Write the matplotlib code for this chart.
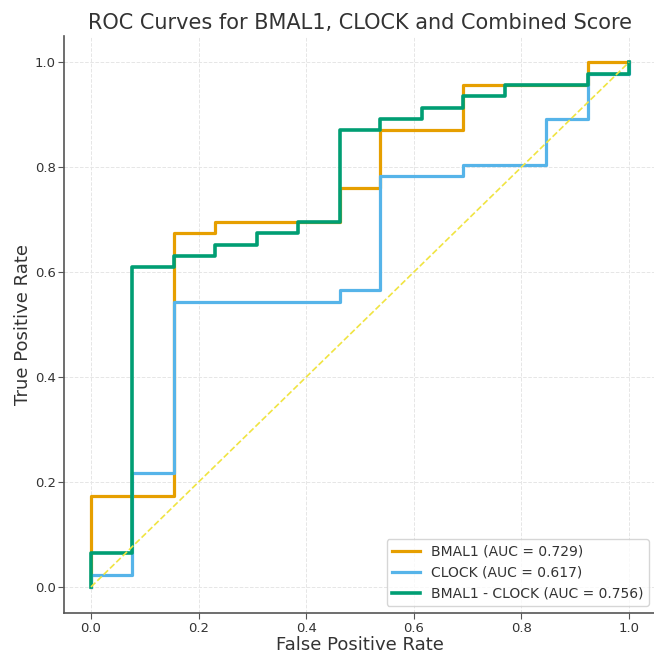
import matplotlib
matplotlib.use("Agg")
import matplotlib.pyplot as plt

# Puntos de las curvas ROC (esquinas de los escalones)
fpr_bmal1 = [0.0, 0.0, 0.154, 0.154, 0.231, 0.231, 0.462, 0.462, 0.538, 0.538,
             0.692, 0.692, 0.923, 0.923, 1.0]
tpr_bmal1 = [0.0, 0.174, 0.174, 0.674, 0.674, 0.696, 0.696, 0.761, 0.761, 0.870,
             0.870, 0.957, 0.957, 1.0, 1.0]

fpr_clock = [0.0, 0.0, 0.077, 0.077, 0.154, 0.154, 0.462, 0.462, 0.538, 0.538,
             0.692, 0.692, 0.846, 0.846, 0.923, 0.923, 1.0, 1.0]
tpr_clock = [0.0, 0.022, 0.022, 0.217, 0.217, 0.543, 0.543, 0.565, 0.565, 0.783,
             0.783, 0.804, 0.804, 0.891, 0.891, 0.978, 0.978, 1.0]

fpr_comb = [0.0, 0.0, 0.077, 0.077, 0.154, 0.154, 0.231, 0.231, 0.308, 0.308,
            0.385, 0.385, 0.462, 0.462, 0.538, 0.538, 0.615, 0.615, 0.692, 0.692,
            0.769, 0.769, 0.923, 0.923, 1.0, 1.0]
tpr_comb = [0.0, 0.065, 0.065, 0.609, 0.609, 0.630, 0.630, 0.652, 0.652, 0.674,
            0.674, 0.696, 0.696, 0.870, 0.870, 0.891, 0.891, 0.913, 0.913, 0.935,
            0.935, 0.957, 0.957, 0.978, 0.978, 1.0]

auc_bmal1 = 0.729
auc_clock = 0.617
auc_comb = 0.756

TEXTO = "#333333"

fig = plt.figure(figsize=(6.54, 6.53), dpi=100)
ax = fig.add_axes([0.098, 0.061, 0.905, 0.884])

ax.plot(fpr_bmal1, tpr_bmal1, color="#E69F00", lw=2.3, label=f"BMAL1 (AUC = {auc_bmal1:.3f})")
ax.plot(fpr_clock, tpr_clock, color="#56B4E9", lw=2.3, label=f"CLOCK (AUC = {auc_clock:.3f})")
ax.plot(fpr_comb, tpr_comb, color="#009E73", lw=2.6, label=f"BMAL1 - CLOCK (AUC = {auc_comb:.3f})")
ax.plot([0, 1], [0, 1], color="#F0E442", lw=1.2, ls="--")

ax.set_xlabel("False Positive Rate", fontsize=13, color=TEXTO, labelpad=1)
ax.set_ylabel("True Positive Rate", fontsize=13, color=TEXTO, labelpad=2)
ax.set_title("ROC Curves for BMAL1, CLOCK and Combined Score", fontsize=15, pad=5, color=TEXTO)
ax.grid(True, ls="--", color="#e6e6e6", lw=0.7)
ax.set_axisbelow(True)
for s in ["top", "right"]:
    ax.spines[s].set_visible(False)
for s in ["left", "bottom"]:
    ax.spines[s].set_color("#555555")
    ax.spines[s].set_linewidth(1.2)
ax.tick_params(colors="#555555", labelcolor=TEXTO, labelsize=9.5, length=4, pad=2)
leg = ax.legend(loc="lower right", fontsize=10)
for t in leg.get_texts():
    t.set_color(TEXTO)

plt.savefig("out.png", dpi=100)
